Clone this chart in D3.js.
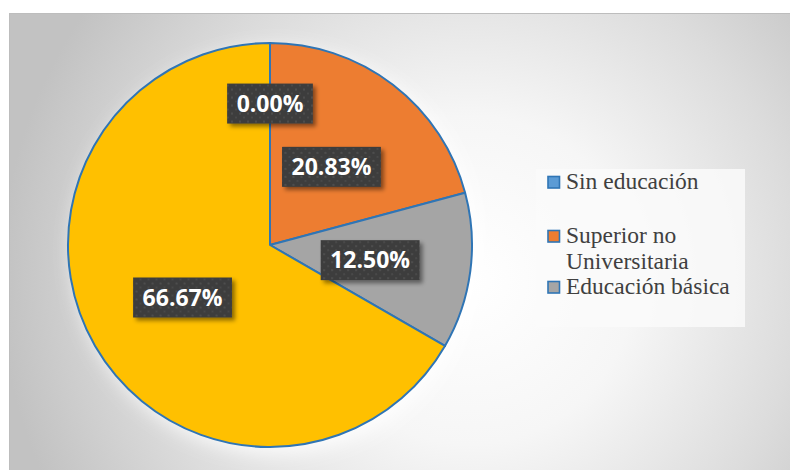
<!DOCTYPE html>
<html>
<head>
<meta charset="utf-8">
<script src="https://cdn.jsdelivr.net/npm/d3@7/dist/d3.min.js"></script>
<style>
  html, body { margin: 0; padding: 0; background: #ffffff; }
  svg { display: block; }
  .legend-text { font-family: "Liberation Serif", "DejaVu Serif", serif; }
</style>
</head>
<body>
<svg id="chart" width="790" height="470"></svg>
<script>
// Nivel educativo — share of respondents
const categories = ["Sin educación", "Superior no Universitaria", "Educación básica", "Superior Universitaria"];
const values = [0.00, 20.83, 12.50, 66.67];
const labels = ["0.00%", "20.83%", "12.50%", "66.67%"];
const colors = ["#5b9bd5", "#ed7d31", "#a5a5a5", "#ffc000"];
// legend lines (the last category is not listed in the legend)
const legendLines = [["Sin educación"], ["Superior no", "Universitaria"], ["Educación básica"]];

const svg = d3.select("#chart");
const W = 790, H = 470;
const defs = svg.append("defs");

// chart area background: soft radial fade from white to grey
const bg = defs.append("radialGradient")
  .attr("id", "bgGrad")
  .attr("gradientUnits", "userSpaceOnUse")
  .attr("cx", 470).attr("cy", 280).attr("r", 470)
  .attr("fx", 470).attr("fy", 280);
bg.append("stop").attr("offset", "0").attr("stop-color", "#ffffff");
bg.append("stop").attr("offset", "0.35").attr("stop-color", "#f6f6f6");
bg.append("stop").attr("offset", "0.7").attr("stop-color", "#dcdcdc");
bg.append("stop").attr("offset", "1").attr("stop-color", "#c2c2c2");

// dotted dark fill for the value labels
const pat = defs.append("pattern")
  .attr("id", "dots").attr("patternUnits", "userSpaceOnUse")
  .attr("width", 8).attr("height", 8);
pat.append("rect").attr("width", 8).attr("height", 8).attr("fill", "#3d3d3d");
pat.append("circle").attr("cx", 2).attr("cy", 2).attr("r", 1.1).attr("fill", "#515151");
pat.append("circle").attr("cx", 6).attr("cy", 6).attr("r", 1.1).attr("fill", "#4a4a4a");

const shadow = defs.append("filter").attr("id", "labelShadow")
  .attr("x", "-20%").attr("y", "-20%").attr("width", "150%").attr("height", "160%");
shadow.append("feDropShadow").attr("dx", 3).attr("dy", 3).attr("stdDeviation", 2)
  .attr("flood-color", "#000").attr("flood-opacity", 0.45);

const pieShadow = defs.append("filter").attr("id", "pieShadow")
  .attr("x", "-20%").attr("y", "-20%").attr("width", "140%").attr("height", "140%");
pieShadow.append("feDropShadow").attr("dx", 6).attr("dy", 6).attr("stdDeviation", 10)
  .attr("flood-color", "#ffffff").attr("flood-opacity", 0.9);

svg.append("rect")
  .attr("x", 9.5).attr("y", 13.5).attr("width", W - 9).attr("height", H - 13)
  .attr("fill", "url(#bgGrad)")
  .attr("stroke", "#bdbdbd").attr("stroke-width", 1);

// pie
const cx = 270, cy = 245, R = 202;
const pie = d3.pie().sort(null).value(d => d)(values);
const arc = d3.arc().innerRadius(0).outerRadius(R);

const g = svg.append("g").attr("transform", `translate(${cx},${cy})`);
g.append("circle").attr("r", R).attr("fill", "#ffffff").attr("filter", "url(#pieShadow)");
g.selectAll("path.slice")
  .data(pie)
  .join("path")
  .attr("class", "slice")
  .attr("d", arc)
  .attr("fill", (d, i) => colors[i])
  .attr("stroke", "#2f75b5")
  .attr("stroke-width", 2)
  .attr("stroke-linejoin", "round");

// value labels: centroid at half radius; empty slices pushed outward
const labelArc = d3.arc().innerRadius(0).outerRadius(R);
const zeroArc = d3.arc().innerRadius(R * 0.71).outerRadius(R * 0.71);
const labelG = g.selectAll("g.lbl")
  .data(pie)
  .join("g")
  .attr("class", "lbl")
  .attr("transform", d => {
    const c = d.value === 0 ? zeroArc.centroid(d) : labelArc.centroid(d);
    return `translate(${c[0]},${c[1] + 2})`;
  });

labelG.each(function(d, i) {
  const sel = d3.select(this);
  const txt = sel.append("text")
    .attr("text-anchor", "middle")
    .attr("y", 8)
    .attr("font-family", "'Open Sans', sans-serif")
    .attr("font-weight", 700)
    .attr("font-size", 23)
    .attr("fill", "#ffffff")
    .text(labels[i]);
  const w = txt.node().getComputedTextLength() + 19;
  const h = 40;
  sel.insert("rect", "text")
    .attr("x", -w / 2).attr("y", -h / 2)
    .attr("width", w).attr("height", h)
    .attr("fill", "url(#dots)")
    .attr("filter", "url(#labelShadow)");
});

// legend
const lg = svg.append("g");
lg.append("rect")
  .attr("x", 536).attr("y", 169).attr("width", 209).attr("height", 158)
  .attr("fill", "#fafafa").attr("fill-opacity", 0.85);

const legendY = [189, 243, 294];
const lineH = 26;
legendLines.forEach((lines, i) => {
  const y = legendY[i];
  lg.append("rect")
    .attr("x", 548).attr("y", y - 12.5).attr("width", 11.5).attr("height", 11.5)
    .attr("fill", colors[i]).attr("stroke", "#2f75b5").attr("stroke-width", 1.6);
  const t = lg.append("text")
    .attr("class", "legend-text")
    .attr("x", 566).attr("y", y)
    .attr("font-size", 23.5)
    .attr("fill", "#404040");
  lines.forEach((ln, j) => {
    t.append("tspan").attr("x", 566).attr("dy", j === 0 ? 0 : lineH).text(ln);
  });
});
</script>
</body>
</html>
